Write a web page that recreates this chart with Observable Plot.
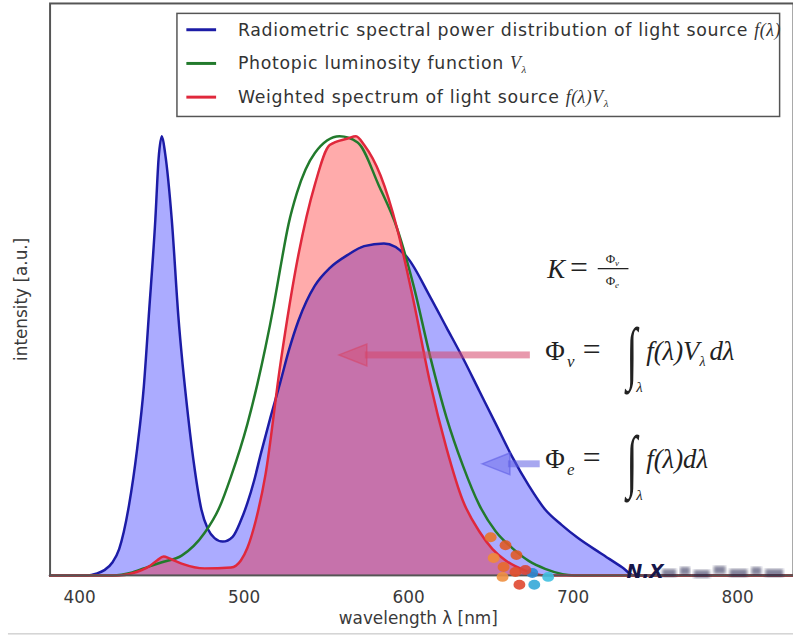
<!DOCTYPE html>
<html><head><meta charset="utf-8">
<script src="https://cdn.jsdelivr.net/npm/d3@7"></script>
<script src="https://cdn.jsdelivr.net/npm/@observablehq/plot@0.6"></script>
<style>
html,body{margin:0;padding:0;background:#fff;overflow:hidden;}
#chart{position:relative;width:793px;height:643px;overflow:hidden;}
</style></head><body><div id="chart"></div>
<script>
// ---- data ----
const radiometricWl  = [382, 405, 410, 415, 420, 424, 430, 435, 439, 442, 446, 448, 450, 452, 456, 460, 466, 470, 474, 478, 482, 487, 493, 498, 502, 506, 510, 516, 522, 527, 533, 543, 552, 563, 573, 585, 599, 613, 623, 633, 643, 653, 663, 673, 683, 693, 703, 717, 730, 737, 834];
const radiometricVal = [0, 0, 0.004, 0.012, 0.03, 0.06, 0.16, 0.29, 0.43, 0.59, 0.81, 0.95, 1.0, 0.96, 0.81, 0.59, 0.36, 0.24, 0.15, 0.105, 0.085, 0.077, 0.088, 0.125, 0.165, 0.215, 0.275, 0.36, 0.44, 0.51, 0.58, 0.66, 0.70, 0.73, 0.75, 0.756, 0.725, 0.635, 0.565, 0.495, 0.42, 0.345, 0.27, 0.205, 0.15, 0.115, 0.085, 0.05, 0.018, 0, 0];

const photopicWl  = [382, 420, 432, 442, 450, 462, 476, 485, 492, 502, 508, 513, 518, 522, 527, 532, 543, 558, 569, 582, 593, 603, 613, 623, 633, 643, 653, 663, 673, 683, 701, 834];
const photopicVal = [0, 0, 0.007, 0.02, 0.03, 0.045, 0.097, 0.155, 0.225, 0.345, 0.435, 0.52, 0.615, 0.70, 0.80, 0.87, 0.962, 1.0, 0.986, 0.887, 0.79, 0.66, 0.50, 0.36, 0.25, 0.16, 0.10, 0.062, 0.033, 0.015, 0, 0];

const weightedWl  = [382, 424, 432, 442, 447, 451, 455, 462, 476, 492, 498, 502, 507, 513, 522, 533, 543, 552, 563, 568, 573, 583, 593, 603, 613, 623, 633, 643, 651, 659, 671, 683, 834];
const weightedVal = [0, 0, 0.005, 0.02, 0.034, 0.043, 0.038, 0.027, 0.016, 0.018, 0.034, 0.063, 0.124, 0.23, 0.48, 0.73, 0.89, 0.98, 0.995, 1.0, 0.98, 0.91, 0.79, 0.625, 0.44, 0.29, 0.17, 0.10, 0.06, 0.034, 0.011, 0, 0];

const xTicks = [400, 500, 600, 700, 800];
const xLabel = "wavelength λ [nm]";
const yLabel = "intensity [a.u.]";
const legendText = ["Radiometric spectral power distribution of light source ", "Photopic luminosity function ", "Weighted spectrum of light source "];
const legendMath = [["f(λ)", ""], ["V", "λ"], ["f(λ)V", "λ"]];
const seriesColors = ["#1c1ca6", "#227a2c", "#e0283c"];
// annotation arrows (wavelength from, wavelength to, intensity level)
const arrowFrom = [674, 680];
const arrowTo = [558, 645];
const arrowLevel = [0.501, 0.253];
const arrowColors = ["rgb(214,70,105)", "rgb(95,95,228)"];

const rows = (wl, val) => wl.map((w, i) => ({wl: w, v: val[i]}));
const blue = rows(radiometricWl, radiometricVal);
const green = rows(photopicWl, photopicVal);
const red = rows(weightedWl, weightedVal);

const chart = Plot.plot({
  width: 800, height: 643,
  marginLeft: 50, marginRight: 0, marginTop: 3, marginBottom: 63,
  style: {fontFamily: "DejaVu Sans", fontSize: "17px", color: "#3a3a3a", background: "#fff", overflow: "visible"},
  x: {domain: [382, 834], ticks: xTicks, tickSize: 0, tickPadding: 16, label: null, tickFormat: d => String(d)},
  y: {domain: [0, 1.3025], axis: null},
  marks: [
    Plot.areaY(blue, {x: "wl", y: "v", fill: "rgb(0,0,255)", fillOpacity: 0.33, curve: "monotone-x"}),
    Plot.areaY(red, {x: "wl", y: "v", fill: "rgb(255,0,0)", fillOpacity: 0.33, curve: "monotone-x"}),
    Plot.lineY(blue, {x: "wl", y: "v", stroke: seriesColors[0], strokeWidth: 2.5, curve: "monotone-x"}),
    Plot.lineY(green, {x: "wl", y: "v", stroke: seriesColors[1], strokeWidth: 2.5, curve: "monotone-x"}),
    Plot.lineY(red, {x: "wl", y: "v", stroke: seriesColors[2], strokeWidth: 2.5, curve: "monotone-x"}),
    Plot.frame({stroke: "#555", strokeWidth: 2})
  ]
});
document.getElementById("chart").appendChild(chart);

const svg = d3.select(chart);
const X = v => chart.scale("x").apply(v);
const Y = v => chart.scale("y").apply(v);
const serif = "'Liberation Serif', 'DejaVu Serif', serif";

// axis labels
svg.append("text").attr("x", 422).attr("y", 630).attr("text-anchor", "middle")
  .attr("font-family", "DejaVu Sans").attr("font-size", 17).attr("fill", "#3a3a3a").text(xLabel);
svg.append("text").attr("transform", "translate(27,302) rotate(-90)").attr("text-anchor", "middle")
  .attr("font-family", "DejaVu Sans").attr("font-size", 17).attr("fill", "#3a3a3a").text(yLabel);

// arrows
arrowFrom.forEach((a, i) => {
  const x1 = X(a), x2 = X(arrowTo[i]), y = Y(arrowLevel[i]);
  const head = 28, hh = 11, sh = 3.5;
  const g = svg.append("g");
  g.append("rect").attr("x", x2 + head - 2).attr("y", y - sh).attr("width", x1 - x2 - head + 2).attr("height", 2 * sh)
    .attr("fill", arrowColors[i]).attr("fill-opacity", 0.55);
  g.append("path").attr("d", `M${x2},${y} L${x2 + head},${y - hh} L${x2 + head},${y + hh} Z`)
    .attr("fill", arrowColors[i]).attr("fill-opacity", 0.4).attr("stroke", arrowColors[i]).attr("stroke-opacity", 0.6).attr("stroke-width", 1.5);
});

// legend
const lg = svg.append("g").attr("text-anchor", "start");
lg.append("rect").attr("x", 178.5).attr("y", 13.5).attr("width", 608).attr("height", 104)
  .attr("fill", "#fff").attr("stroke", "#555").attr("stroke-width", 1.5);
[30, 64, 98].forEach((yy, i) => {
  lg.append("line").attr("x1", 188).attr("x2", 218).attr("y1", yy).attr("y2", yy)
    .attr("stroke", seriesColors[i]).attr("stroke-width", 3);
  const t = lg.append("text").attr("x", 240).attr("y", yy + 6).attr("font-family", "DejaVu Sans")
    .attr("font-size", 17.5).attr("letter-spacing", 0.7).attr("fill", "#333");
  t.append("tspan").text(legendText[i]);
  t.append("tspan").attr("font-family", serif).attr("font-style", "italic").attr("font-size", 18).attr("letter-spacing", 0.5).text(legendMath[i][0]);
  if (legendMath[i][1]) t.append("tspan").attr("font-family", serif).attr("font-style", "italic").attr("font-size", 11).attr("dy", 4).text(legendMath[i][1]);
});

// formulas
const f = svg.append("g").attr("fill", "#222").attr("font-family", serif).attr("text-anchor", "start");
// K = Φv / Φe
f.append("text").attr("x", 552).attr("y", 280).attr("font-size", 27).attr("font-style", "italic").text("K");
f.append("text").attr("x", 575).attr("y", 280).attr("font-size", 32).text("=");
f.append("line").attr("x1", 603).attr("x2", 634).attr("y1", 271).attr("y2", 271).attr("stroke", "#222").attr("stroke-width", 1.3);
const fr1 = f.append("text").attr("x", 611).attr("y", 265).attr("font-size", 13);
fr1.append("tspan").text("Φ"); fr1.append("tspan").attr("font-size", 9).attr("font-style", "italic").attr("dy", 3).text("v");
const fr2 = f.append("text").attr("x", 611).attr("y", 288).attr("font-size", 13);
fr2.append("tspan").text("Φ"); fr2.append("tspan").attr("font-size", 9).attr("font-style", "italic").attr("dy", 3).text("e");

function integralRow(base, subSym, body, bodySub, tail) {
  f.append("text").attr("x", 550).attr("y", base).attr("font-size", 27).text("Φ");
  f.append("text").attr("x", 572).attr("y", base + 7).attr("font-size", 17).attr("font-style", "italic").text(subSym);
  f.append("text").attr("x", 588).attr("y", base).attr("font-size", 32).text("=");
  // tall thin integral sign, drawn as text in Liberation Serif stretched vertically
  f.append("text").attr("x", 0).attr("y", 0).attr("font-size", 40)
    .attr("transform", `translate(632,${base + 16}) scale(1,1.75)`).text("∫");
  f.append("text").attr("x", 642).attr("y", base + 32).attr("font-size", 15).attr("font-style", "italic").text("λ");
  const t = f.append("text").attr("x", 652).attr("y", base).attr("font-size", 27).attr("font-style", "italic");
  t.append("tspan").text(body);
  if (bodySub) {
    t.append("tspan").attr("font-size", 14).attr("dy", 6).text(bodySub);
    t.append("tspan").attr("dy", -6).attr("dx", 4).text(tail);
  }
}
integralRow(363, "v", "f(λ)V", "λ", "dλ");
integralRow(472, "e", "f(λ)dλ", null, null);

// watermark logo and text
const dots = [[495,542,"#e8742a"],[510,550,"#e05a28"],[521,560,"#e05a28"],[498,563,"#f08a3a"],[508,572,"#e86a2a"],[520,577,"#e0502a"],[507,582,"#f09040"],[524,590,"#e04830"],[537,578,"#2a8ad0"],[539,590,"#34a8d8"],[553,582,"#40c0e0"],[530,575,"#d84838"]];
dots.forEach(d => svg.append("ellipse").attr("cx", d[0]).attr("cy", d[1]).attr("rx", 6).attr("ry", 5).attr("fill", d[2]).attr("fill-opacity", 0.9));
const defs = svg.append("defs");
defs.append("filter").attr("id", "wmblur").append("feGaussianBlur").attr("stdDeviation", 1.4);
svg.append("text").attr("x", 632).attr("y", 583).attr("text-anchor", "start").attr("font-family", "DejaVu Sans").attr("font-weight", "bold").attr("font-style", "italic")
  .attr("font-size", 19).attr("fill", "#16164a").text("N.X");
[[668, 574, 14], [686, 572, 10], [700, 575, 16], [720, 571, 12], [736, 574, 18], [758, 572, 10], [772, 574, 18]].forEach(r =>
  svg.append("rect").attr("x", r[0]).attr("y", r[1]).attr("width", r[2]).attr("height", 8).attr("fill", "#1e1e4a")
    .attr("fill-opacity", 0.55).attr("filter", "url(#wmblur)"));

// bottom border line
svg.append("line").attr("x1", 8).attr("x2", 800).attr("y1", 639.5).attr("y2", 639.5).attr("stroke", "#bbb").attr("stroke-width", 1);
</script></body></html>
